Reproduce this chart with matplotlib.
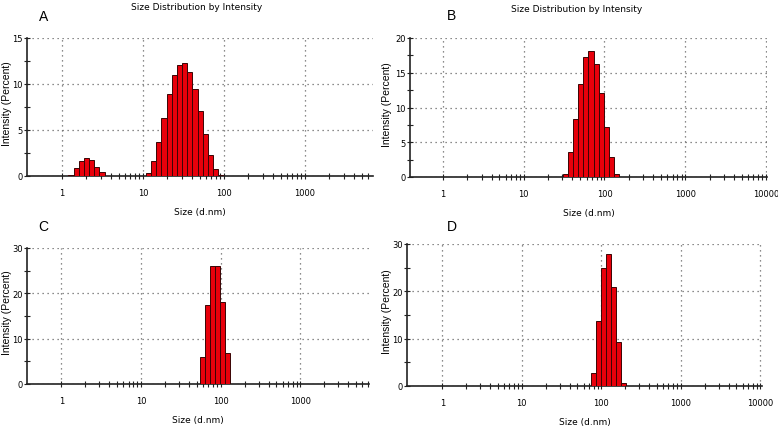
import matplotlib.pyplot as plt
from matplotlib.ticker import FixedLocator, NullFormatter

# bin centres (d.nm) and intensity (%)
size_a = [1.294, 1.499, 1.736, 2.010, 2.328, 2.696, 3.122,
          11.70, 13.54, 15.69, 18.17, 21.04, 24.36, 28.21, 32.67,
          37.84, 43.82, 50.75, 58.77, 68.06, 78.82, 91.28]
int_a = [0.15, 0.9, 1.6, 2.0, 1.75, 1.0, 0.4,
         0.3, 1.6, 3.7, 6.3, 8.9, 11.0, 12.1, 12.3,
         11.3, 9.5, 7.1, 4.6, 2.3, 0.8, 0.1]

size_b = [32.67, 37.84, 43.82, 50.75, 58.77, 68.06, 78.82, 91.28, 105.7, 122.4, 141.8]
int_b = [0.5, 3.6, 8.4, 13.4, 17.2, 18.2, 16.3, 12.1, 7.2, 2.9, 0.4]

size_c = [58.77, 68.06, 78.82, 91.28, 105.7, 122.4]
int_c = [6.0, 17.4, 26.0, 26.0, 18.0, 6.8]

size_d = [78.82, 91.28, 105.7, 122.4, 141.8, 164.2, 190.1]
int_d = [2.7, 13.8, 24.9, 27.9, 21.0, 9.2, 0.6]

letters = ['A', 'B', 'C', 'D']
y_max = [15, 20, 30, 30]
y_step = [5, 5, 10, 10]
x_labels = ['1', '10', '100', '1000', '10000']
title = 'Size Distribution by Intensity'

NARROW = ['Liberation Sans Narrow', 'DejaVu Sans']
REG = ['Liberation Sans', 'DejaVu Sans']
BIN_HALF = 1.0762  # half of log bin width (ratio 1.1581)

W, H = 778, 431
fig = plt.figure(figsize=(W / 100, H / 100), dpi=100)

# axes boxes in pixels: left, right, top, bottom
boxes = [(27, 373, 39, 177), (410, 767, 39, 178),
         (27, 369, 249, 385), (407, 762, 245, 387)]
xlims = [(0.37, 6900), (0.39, 10300), (0.37, 7300), (0.36, 10500)]
data = [(size_a, int_a), (size_b, int_b), (size_c, int_c), (size_d, int_d)]
letter_pos = [(44, 17), (452, 16), (43, 227), (452, 227)]
title_pos = [(197, 8), (577, 10), None, None]
ylab_right = [12, 392, 12, 392]

for i in range(4):
    l, r, t, b = boxes[i]
    ax = fig.add_axes([l / W, 1 - b / H, (r - l) / W, (b - t) / H])
    sizes, vals = data[i]
    lefts = [s / BIN_HALF for s in sizes]
    widths = [s * BIN_HALF - s / BIN_HALF for s in sizes]
    ax.bar(lefts, vals, width=widths, align='edge', color='#e8000b',
           edgecolor='#3a0505', linewidth=0.7, zorder=3)
    ax.set_xscale('log')
    ax.set_xlim(*xlims[i])
    ax.set_ylim(0, y_max[i])

    decades = [1, 10, 100, 1000, 10000]
    ax.xaxis.set_major_locator(FixedLocator(decades))
    ax.set_xticklabels(x_labels)
    minors = [k * d for d in [1, 10, 100, 1000] for k in range(2, 10)]
    ax.xaxis.set_minor_locator(FixedLocator(minors))
    ax.xaxis.set_minor_formatter(NullFormatter())

    ax.set_yticks(list(range(0, y_max[i] + 1, y_step[i])))
    ax.yaxis.set_minor_locator(FixedLocator(
        [v + y_step[i] / 2 for v in range(0, y_max[i], y_step[i])]))

    ax.grid(True, which='major', color='#666666', linestyle=(0, (1, 3)), linewidth=0.9)
    ax.set_axisbelow(True)
    for s in ['top', 'right']:
        ax.spines[s].set_visible(False)
    for s in ['left', 'bottom']:
        ax.spines[s].set_color('#222222')
        ax.spines[s].set_linewidth(1.2)

    ax.tick_params(axis='both', which='both', direction='inout', length=4,
                   width=0.8, color='#222222', labelsize=6,
                   labelfontfamily=NARROW)
    ax.tick_params(axis='x', which='major', pad=7)
    ax.tick_params(axis='y', which='major', pad=1)

    ax.set_xlabel('Size (d.nm)', fontsize=6.5, family=NARROW, labelpad=7)
    ax.set_ylabel('Intensity (Percent)', fontsize=7.5, family=REG)
    ax.yaxis.set_label_coords((ylab_right[i] - l) / (r - l), 0.53)

    lx, ly = letter_pos[i]
    fig.text(lx / W, 1 - ly / H, letters[i], fontsize=10, family=REG,
             ha='center', va='center')
    if title_pos[i] is not None:
        tx, ty = title_pos[i]
        fig.text(tx / W, 1 - ty / H, title, fontsize=6.5, family=NARROW,
                 ha='center', va='center')

fig.savefig('out.png', dpi=100, facecolor='white')
